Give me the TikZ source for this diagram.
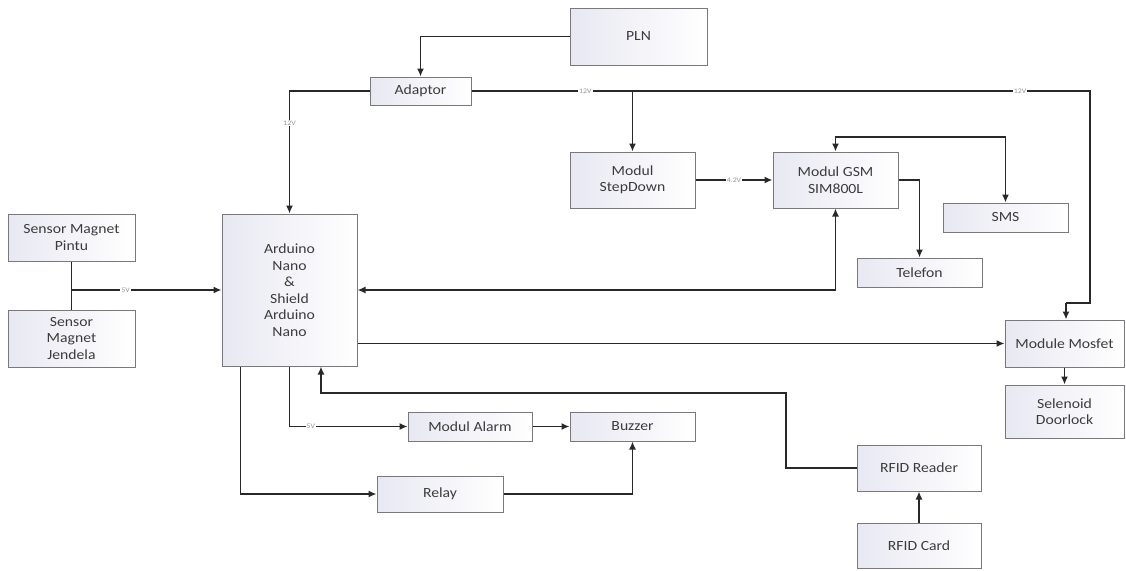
\documentclass[tikz,border=0pt]{standalone}
\usepackage{fontspec}
\setmainfont[FakeStretch=1.12]{Carlito}
\usetikzlibrary{arrows.meta,calc}
\definecolor{boxl}{RGB}{232,232,242}
\definecolor{boxd}{RGB}{120,120,125}
\definecolor{txt}{RGB}{60,60,60}
\definecolor{ln}{RGB}{40,40,40}
\definecolor{lblc}{RGB}{150,150,150}
\tikzset{
  blk/.style={draw=boxd, line width=1pt, left color=boxl, right color=white,
    text=txt, align=center, inner sep=1pt, font=\fontsize{14}{16.5}\selectfont},
  wire/.style={draw=ln, line width=1.5pt},
  arr/.style={wire, -{Latex[length=8pt,width=7pt]}},
  biarr/.style={wire, {Latex[length=8pt,width=7pt]}-{Latex[length=8pt,width=7pt]}},
  lbl/.style={fill=white, text=lblc, inner sep=1pt, font=\fontsize{7}{8}\selectfont},
}
\begin{document}
\begin{tikzpicture}[x=1pt,y=-1pt]
\useasboundingbox (0,0) rectangle (1126,570);
% blocks
\node[blk, minimum width=137pt, minimum height=57pt] (pln) at (638.5,36.5) {PLN};
\node[blk, minimum width=101pt, minimum height=28pt] (adaptor) at (420.5,91) {Adaptor};
\node[blk, minimum width=125pt, minimum height=56pt] (stepdown) at (632.5,180) {Modul\\StepDown};
\node[blk, minimum width=125pt, minimum height=56pt] (gsm) at (835.5,180) {Modul GSM\\SIM800L};
\node[blk, minimum width=125pt, minimum height=29pt] (sms) at (1005.5,217.5) {SMS};
\node[blk, minimum width=125pt, minimum height=29pt] (telefon) at (919.5,272.5) {Telefon};
\node[blk, minimum width=135pt, minimum height=152pt] (arduino) at (289.5,290) {Arduino\\Nano\\\&\\Shield\\Arduino\\Nano};
\node[blk, minimum width=127pt, minimum height=47pt] (pintu) at (71.5,237.5) {Sensor Magnet\\Pintu};
\node[blk, minimum width=127pt, minimum height=57pt] (jendela) at (71.5,338.5) {Sensor\\Magnet\\Jendela};
\node[blk, minimum width=119pt, minimum height=47pt] (mosfet) at (1064.5,343.5) {Module Mosfet};
\node[blk, minimum width=119pt, minimum height=53pt] (selenoid) at (1064.5,411.5) {Selenoid\\Doorlock};
\node[blk, minimum width=124pt, minimum height=29pt] (alarm) at (470,426.5) {Modul Alarm};
\node[blk, minimum width=125pt, minimum height=29pt] (buzzer) at (632.5,426.5) {Buzzer};
\node[blk, minimum width=126pt, minimum height=36pt] (relay) at (440,494) {Relay};
\node[blk, minimum width=124pt, minimum height=46pt] (reader) at (919,468) {RFID Reader};
\node[blk, minimum width=124pt, minimum height=45pt] (card) at (919,545.5) {RFID Card};
% helper coordinates
\coordinate (a1) at (1090,91);
\coordinate (a2) at (1090,303);
\coordinate (a3) at (1066,303);
\coordinate (j1) at (stepdown.north |- adaptor.east);
\coordinate (g1) at (835.5,137);
\coordinate (g2) at (1005.5,137);
\coordinate (s1) at (pintu.south |- arduino.west);
\coordinate (d1) at ($(arduino.south west)+(19,0)$);
\coordinate (r1) at (786,393);
\coordinate (r2) at (321,393);
% connectors
\draw[arr] (pln.west) -| (adaptor.north);
\draw[arr] (adaptor.west) -| node[pos=0.63,lbl]{12V} (arduino.north);
\draw[wire] (adaptor.east) -- node[pos=0.184,lbl]{12V} node[pos=0.887,lbl]{12V} (a1) -- (a2) -- (a3);
\draw[arr] (a3) -- (a3 |- mosfet.north);
\draw[arr] (j1) -- (stepdown.north);
\draw[arr] (stepdown.east) -- node[lbl]{4.2V} (gsm.west);
\draw[biarr] (gsm.north) -- (g1) -- (g2) -- (sms.north);
\draw[arr] (gsm.east) -| (telefon.north);
\draw[biarr] (arduino.east) -| (gsm.south);
\draw[wire] (pintu.south) -- (jendela.north);
\draw[arr] (s1) -- node[pos=0.36,lbl]{5V} (arduino.west);
\draw[arr] (arduino.east |- mosfet.west) -- (mosfet.west);
\draw[arr] (mosfet.south) -- (selenoid.north);
\draw[arr] (d1) |- (relay.west);
\draw[arr] (arduino.south) |- node[pos=0.59,lbl]{5V} (alarm.west);
\draw[arr] (alarm.east) -- (buzzer.west);
\draw[arr] (relay.east) -| (buzzer.south);
\draw[arr] (reader.west) -| (r1) -- (r2) -- (r2 |- arduino.south);
\draw[arr] (card.north) -- (reader.south);
\end{tikzpicture}
\end{document}
